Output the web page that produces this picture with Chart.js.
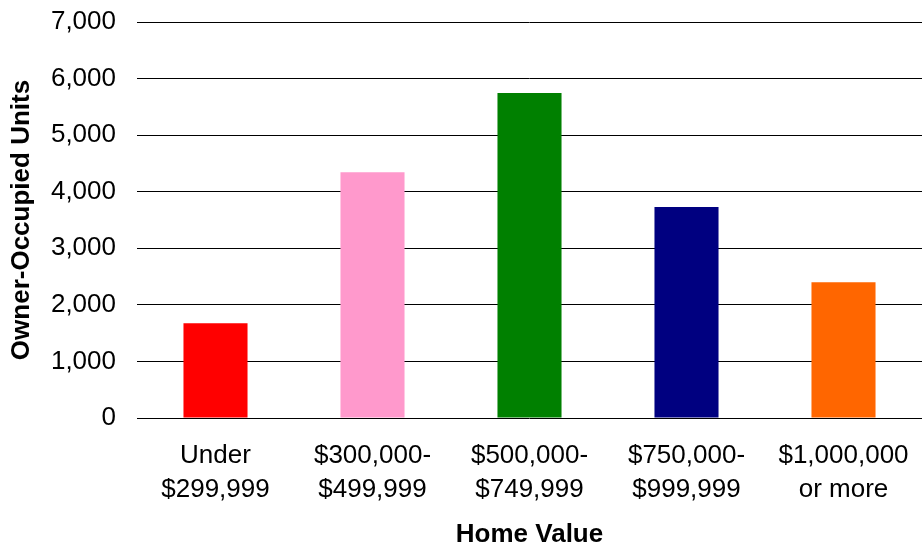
<!DOCTYPE html>
<html>
<head>
<meta charset="utf-8">
<script src="https://cdn.jsdelivr.net/npm/chart.js@4/dist/chart.umd.min.js"></script>
<style>
  html, body { margin: 0; padding: 0; background: #fff; }
  #wrap { width: 922px; height: 548px; }
</style>
</head>
<body>
<div id="wrap"><canvas id="c" width="922" height="548"></canvas></div>
<script>
const categories = [
  ["Under", "$299,999"],
  ["$300,000-", "$499,999"],
  ["$500,000-", "$749,999"],
  ["$750,000-", "$999,999"],
  ["$1,000,000", "or more"]
];
const units = [1675, 4345, 5745, 3730, 2400];
const barColors = ["#FF0000", "#FF99CC", "#008000", "#000080", "#FF6600"];
const yTitle = "Owner-Occupied Units";
const xTitle = "Home Value";
const yMin = 0, yMax = 7000, yStep = 1000;

const FONT = "Arial, 'Liberation Sans', sans-serif";

new Chart(document.getElementById("c"), {
  type: "bar",
  data: {
    labels: categories,
    datasets: [{
      data: units,
      backgroundColor: barColors,
      borderWidth: 0,
      barPercentage: 0.408,
      categoryPercentage: 1.0
    }]
  },
  options: {
    responsive: false,
    animation: false,
    devicePixelRatio: 1,
    layout: { padding: { top: 22, right: 0, bottom: 0, left: 0 } },
    plugins: { legend: { display: false }, tooltip: { enabled: false } },
    scales: {
      x: {
        grid: { display: false, drawTicks: false },
        border: { display: false },
        ticks: {
          color: "#000",
          font: { family: FONT, size: 26, lineHeight: 1.31 },
          padding: 21,
          maxRotation: 0,
          autoSkip: false
        },
        title: {
          display: true,
          text: xTitle,
          color: "#000",
          font: { family: FONT, size: 26, weight: "bold", lineHeight: 1 },
          padding: { top: 0, bottom: 0 }
        },
        afterFit: (s) => { s.height = 130; s.paddingLeft = 0; s.paddingRight = 0; }
      },
      y: {
        min: yMin,
        max: yMax,
        grid: { color: "#000", lineWidth: 1, drawTicks: false },
        border: { display: false },
        ticks: {
          stepSize: yStep,
          color: "#000",
          font: { family: FONT, size: 26 },
          padding: 21,
          callback: (v) => v.toLocaleString("en-US")
        },
        title: {
          display: true,
          text: yTitle,
          color: "#000",
          font: { family: FONT, size: 26, weight: "bold", lineHeight: 1 },
          padding: { top: 9, bottom: 0 }
        },
        afterFit: (s) => { s.width = 137; s.paddingTop = 0; s.paddingBottom = 0; }
      }
    }
  }
});
</script>
</body>
</html>
